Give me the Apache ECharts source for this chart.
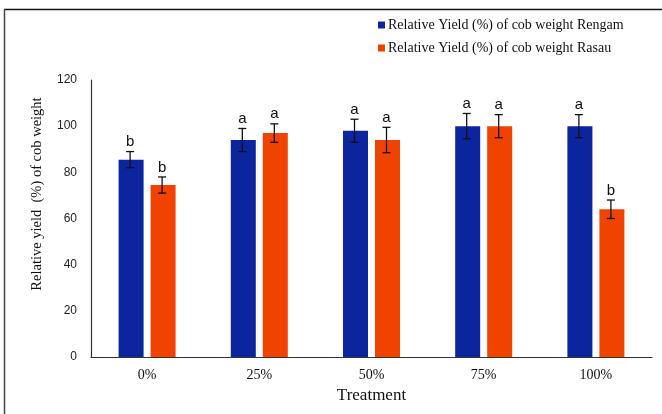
<!DOCTYPE html>
<html>
<head>
<meta charset="utf-8">
<script src="https://cdn.jsdelivr.net/npm/echarts@6/dist/echarts.min.js"></script>
<style>
  html, body { margin: 0; padding: 0; background: #fff; }
  #chart { width: 662px; height: 414px; }
</style>
</head>
<body>
<div id="chart"></div>
<script>
  // treatment levels and readings taken off the figure
  const treatments = ['0%', '25%', '50%', '75%', '100%'];
  const rengam = [85.5, 94, 98, 100, 100];
  const rengamErr = [3.5, 5, 5, 5.5, 5];
  const rengamLetters = ['b', 'a', 'a', 'a', 'a'];
  const rasau = [74.5, 97, 94, 100, 64];
  const rasauErr = [3.5, 4, 5.5, 5, 4];
  const rasauLetters = ['b', 'a', 'a', 'a', 'b'];
  const yTicks = [0, 20, 40, 60, 80, 100, 120];

  const BLUE = '#0A259E';
  const ORANGE = '#F04300';
  const BAR_W = 25;
  const BAR_GAP = '28%';
  const serif = '"Liberation Serif", "Times New Roman", serif';
  const sans = '"Liberation Sans", Arial, sans-serif';

  const errorSeries = (vals, errs, letters, idx) => ({
    type: 'custom',
    silent: true,
    z: 5,
    data: vals.map((v, i) => [i, v, errs[i], letters[i]]),
    renderItem: (params, api) => {
      const i = api.value(0);
      const v = api.value(1);
      const e = api.value(2);
      const band = api.size([1, 0])[0];
      const layout = api.barLayout({ count: 2, barWidth: BAR_W, barGap: BAR_GAP, bandWidth: band });
      const c = api.coord([i, v]);
      const x = c[0] + layout[idx].offsetCenter - 1;
      const hi = api.coord([i, v + e])[1];
      const lo = api.coord([i, v - e])[1];
      const style = { stroke: '#111', lineWidth: 1.3 };
      return {
        type: 'group',
        children: [
          { type: 'line', shape: { x1: x, y1: hi, x2: x, y2: lo }, style },
          { type: 'line', shape: { x1: x - 4, y1: hi, x2: x + 4, y2: hi }, style },
          { type: 'line', shape: { x1: x - 4, y1: lo, x2: x + 4, y2: lo }, style },
          {
            type: 'text',
            x: x, y: hi - 2,
            style: {
              text: letters[i], fill: '#111', font: '15px ' + sans,
              align: 'center', verticalAlign: 'bottom'
            }
          }
        ]
      };
    }
  });

  const chart = echarts.init(document.getElementById('chart'));
  chart.setOption({
    animation: false,
    backgroundColor: '#fff',
    grid: { left: 91, right: 10, top: 80, bottom: 57 },
    legend: {
      orient: 'vertical',
      left: 373,
      top: 13,
      itemWidth: 7,
      itemHeight: 7,
      itemGap: 9,
      icon: 'rect',
      textStyle: { fontFamily: serif, fontSize: 14, color: '#111', padding: [0, 0, 0, -2] },
      data: ['Relative Yield (%) of cob weight Rengam', 'Relative Yield (%) of cob weight Rasau']
    },
    xAxis: {
      type: 'category',
      data: treatments,
      axisLine: { lineStyle: { color: '#333', width: 1.2 } },
      axisTick: { show: false },
      axisLabel: { fontFamily: serif, fontSize: 14, color: '#111', margin: 11 },
      name: 'Treatment',
      nameLocation: 'middle',
      nameGap: 30,
      nameTextStyle: { fontFamily: serif, fontSize: 17, color: '#111' }
    },
    yAxis: {
      type: 'value',
      min: yTicks[0],
      max: yTicks[yTicks.length - 1],
      interval: yTicks[1] - yTicks[0],
      axisLine: { show: true, lineStyle: { color: '#333', width: 1.2 } },
      axisTick: { show: false },
      splitLine: { show: false },
      axisLabel: { fontFamily: sans, fontSize: 12, color: '#222', margin: 14 }
    },
    graphic: [
      { type: 'line', shape: { x1: 4, y1: 9.5, x2: 662, y2: 9.5 }, style: { stroke: '#111', lineWidth: 1.5 } },
      { type: 'line', shape: { x1: 4.5, y1: 9, x2: 4.5, y2: 414 }, style: { stroke: '#444', lineWidth: 1.5 } },
      {
        type: 'text',
        x: 37, y: 194,
        rotation: Math.PI / 2,
        style: {
          text: 'Relative yield  (%) of cob weight',
          font: '14.5px ' + serif, fill: '#111',
          align: 'center', verticalAlign: 'middle'
        }
      }
    ],
    series: [
      {
        name: 'Relative Yield (%) of cob weight Rengam',
        type: 'bar',
        data: rengam,
        barWidth: BAR_W,
        barGap: BAR_GAP,
        itemStyle: { color: BLUE }
      },
      {
        name: 'Relative Yield (%) of cob weight Rasau',
        type: 'bar',
        data: rasau,
        barWidth: BAR_W,
        barGap: BAR_GAP,
        itemStyle: { color: ORANGE }
      },
      errorSeries(rengam, rengamErr, rengamLetters, 0),
      errorSeries(rasau, rasauErr, rasauLetters, 1)
    ]
  });
</script>
</body>
</html>
